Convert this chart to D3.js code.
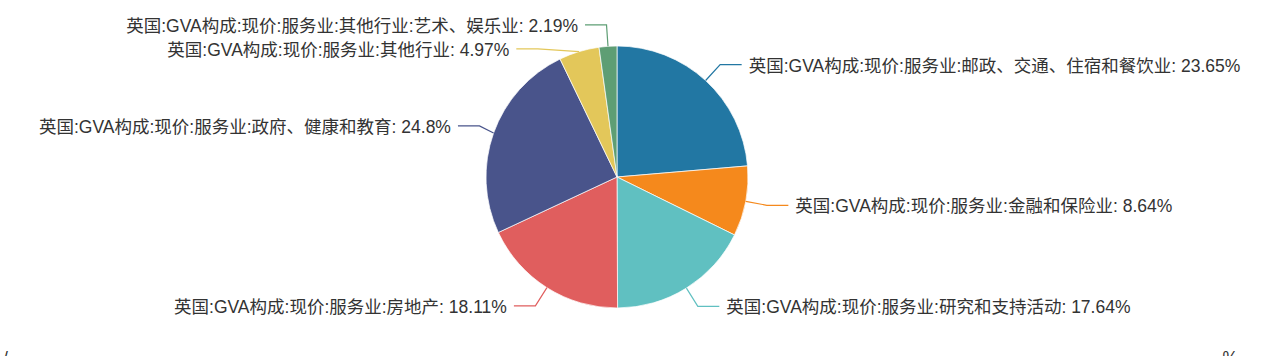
<!DOCTYPE html>
<html><head><meta charset="utf-8">
<script src="https://cdn.jsdelivr.net/npm/d3@7"></script>
<style>
html,body{margin:0;padding:0;background:#fff;overflow:hidden;}
svg{display:block;}
text{font-family:"Liberation Sans","Noto Sans CJK SC",sans-serif;}
</style></head>
<body>
<svg id="chart" width="1269" height="356"></svg>
<script>
const categories = [
  "英国:GVA构成:现价:服务业:邮政、交通、住宿和餐饮业",
  "英国:GVA构成:现价:服务业:金融和保险业",
  "英国:GVA构成:现价:服务业:研究和支持活动",
  "英国:GVA构成:现价:服务业:房地产",
  "英国:GVA构成:现价:服务业:政府、健康和教育",
  "英国:GVA构成:现价:服务业:其他行业",
  "英国:GVA构成:现价:服务业:其他行业:艺术、娱乐业"
];
const values = [23.65, 8.64, 17.64, 18.11, 24.8, 4.97, 2.19];
const colors = ["#2277a3", "#f5891c", "#60c0c1", "#e05e5e", "#49548b", "#e3c75a", "#5e9e74"];
const footLeft = "/";
const footRight = "%";

const W = 1269, H = 356;
const cx = 617, cy = 177, r = 131;
const len1 = 21.5, len2 = 21.5, gap = 7, minGap = 24, recalcLen = 15;
const fontSize = 17.5;

const svg = d3.select("#chart");
const data = values.map((v, i) => ({ name: categories[i], value: v, color: colors[i] }));
const pie = d3.pie().sort(null).value(d => d.value).startAngle(0).endAngle(2 * Math.PI);
const arcs = pie(data);
const arc = d3.arc().innerRadius(0).outerRadius(r);

const g = svg.append("g").attr("transform", `translate(${cx},${cy})`);
g.selectAll("path.slice").data(arcs).join("path")
  .attr("class", "slice")
  .attr("d", arc)
  .attr("fill", d => d.data.color)
  .attr("stroke", "#fff").attr("stroke-width", 0.7);

// label layout
const items = arcs.map(a => {
  const m = (a.startAngle + a.endAngle) / 2;
  const s = Math.sin(m), c = -Math.cos(m);
  const side = s >= 0 ? 1 : -1;
  return {
    a, side,
    edge: [cx + r * s, cy + r * c],
    ex: cx + (r + len1) * s,
    ey: cy + (r + len1) * c
  };
});
[1, -1].forEach(side => {
  const list = items.filter(d => d.side === side).sort((p, q) => p.ey - q.ey);
  let shifted = false;
  for (let i = 1; i < list.length; i++) {
    if (list[i].ey < list[i - 1].ey + minGap) { list[i].ey = list[i - 1].ey + minGap; shifted = true; }
  }
  if (shifted) {
    const rA = r + recalcLen;
    [list.filter(d => d.ey <= cy), list.filter(d => d.ey > cy)].forEach(semi => {
      if (!semi.length) return;
      let maxY = -1, rB = rA;
      semi.forEach(d => {
        const dy = Math.abs(d.ey - cy);
        if (dy >= maxY) {
          const dx = d.ex - cx;
          rB = Math.abs(dx) < rA ? Math.sqrt(dy * dy / (1 - dx * dx / rA / rA)) : rA;
          maxY = dy;
        }
      });
      semi.forEach(d => {
        const dy = Math.abs(d.ey - cy);
        d.ex = cx + side * rA * Math.sqrt(Math.max(0, 1 - dy * dy / (rB * rB)));
      });
    });
  }
});

const lab = svg.append("g");
lab.selectAll("polyline").data(items).join("polyline")
  .attr("points", d => [d.edge, [d.ex, d.ey], [d.ex + d.side * len2, d.ey]].map(p => p.join(",")).join(" "))
  .attr("fill", "none")
  .attr("stroke", d => d.a.data.color)
  .attr("stroke-width", 1.2);
lab.selectAll("text").data(items).join("text")
  .attr("x", d => d.ex + d.side * (len2 + gap))
  .attr("y", d => d.ey + 1)
  .attr("dominant-baseline", "central")
  .attr("text-anchor", d => d.side > 0 ? "start" : "end")
  .attr("font-size", fontSize)
  .attr("fill", "#333")
  .text(d => `${d.a.data.name}: ${d.a.data.value}%`);

svg.append("text").attr("x", 3).attr("y", 364).attr("font-size", fontSize).attr("fill", "#333").text(footLeft);
svg.append("text").attr("x", 1238).attr("y", 364).attr("text-anchor", "end").attr("font-size", fontSize).attr("fill", "#333").text(footRight);
</script>
</body></html>
